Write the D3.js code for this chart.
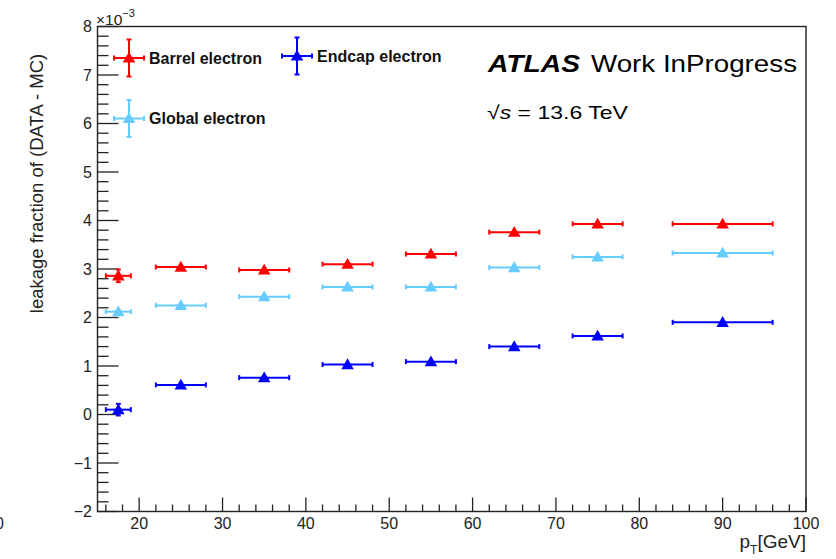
<!DOCTYPE html>
<html lang="en">
<head>
  <meta charset="utf-8">
  <title>Leakage fraction vs pT</title>
  <style type="text/css">
    body { margin: 0; background: #fff; }
    svg { display: block; font-family: "Liberation Sans", Arial, Helvetica, sans-serif; }
  </style>
  <script src="https://cdnjs.cloudflare.com/ajax/libs/d3/7.8.5/d3.min.js"></script>
</head>
<body>
  <div id="chart"></div>
  <script>

  // pT bins (GeV): centre and half width
  var ptCenter = [17.5, 25, 35, 45, 55, 65, 75, 90];
  var ptHalf = [1.5, 3, 3, 3, 3, 3, 3, 6];

  // leakage fraction (DATA - MC), in units of 1e-3
  var barrel = [2.86, 3.04, 2.98, 3.10, 3.31, 3.76, 3.93, 3.93];
  var barrelErr = [0.13, 0.04, 0.04, 0.04, 0.04, 0.04, 0.04, 0.04];
  var endcap = [0.10, 0.61, 0.76, 1.03, 1.09, 1.40, 1.62, 1.90];
  var endcapErr = [0.12, 0.05, 0.05, 0.05, 0.05, 0.05, 0.05, 0.05];
  var globalEl = [2.12, 2.25, 2.43, 2.63, 2.63, 3.03, 3.25, 3.33];
  var globalErr = [0.05, 0.03, 0.03, 0.03, 0.03, 0.03, 0.03, 0.03];

  var seriesNames = ["Barrel electron", "Endcap electron", "Global electron"];
  var seriesColors = ["#ff0000", "#0000ff", "#66ccff"];

  var xTicks = [20, 30, 40, 50, 60, 70, 80, 90, 100];
  var yTicks = [-2, -1, 0, 1, 2, 3, 4, 5, 6, 7, 8];

  function drawChart() {
    var w = 836, h = 559;
    var pLeft = 97.5, pRight = 806, pTop = 26.5, pBottom = 511.5;

    var svg = d3.select("#chart").append("svg")
      .attr("width", w)
      .attr("height", h);

    var x = d3.scaleLinear().domain([15, 100]).range([pLeft, pRight]);
    var y = d3.scaleLinear().domain([-2, 8]).range([pBottom, pTop]);

    // minor ticks
    var xMinor = d3.range(16, 100, 2).filter(function(v) { return v % 10 != 0; });
    var yMinor = d3.range(-18, 80, 2).map(function(v) { return v / 10; })
      .filter(function(v) { return Math.abs(v - Math.round(v)) > 0.01; });

    var tickColor = "#222";

    // x axis ticks
    svg.append("g").selectAll("line")
      .data(xTicks).enter().append("line")
      .attr("x1", function(d) { return x(d); })
      .attr("x2", function(d) { return x(d); })
      .attr("y1", pBottom).attr("y2", pBottom - 14)
      .attr("stroke", tickColor).attr("stroke-width", 1.3);
    svg.append("g").selectAll("line")
      .data(xMinor).enter().append("line")
      .attr("x1", function(d) { return x(d); })
      .attr("x2", function(d) { return x(d); })
      .attr("y1", pBottom).attr("y2", pBottom - 7)
      .attr("stroke", tickColor).attr("stroke-width", 1.3);

    // y axis ticks
    svg.append("g").selectAll("line")
      .data(yTicks).enter().append("line")
      .attr("y1", function(d) { return y(d); })
      .attr("y2", function(d) { return y(d); })
      .attr("x1", pLeft).attr("x2", pLeft + 21)
      .attr("stroke", tickColor).attr("stroke-width", 1.3);
    svg.append("g").selectAll("line")
      .data(yMinor).enter().append("line")
      .attr("y1", function(d) { return y(d); })
      .attr("y2", function(d) { return y(d); })
      .attr("x1", pLeft).attr("x2", pLeft + 11)
      .attr("stroke", tickColor).attr("stroke-width", 1.3);

    // frame
    svg.append("rect")
      .attr("x", pLeft).attr("y", pTop)
      .attr("width", pRight - pLeft).attr("height", pBottom - pTop)
      .attr("fill", "none")
      .attr("stroke", "#222")
      .attr("stroke-width", 1.4);

    // tick labels
    svg.append("g").selectAll("text")
      .data(xTicks).enter().append("text")
      .attr("x", function(d) { return x(d); })
      .attr("y", 529)
      .attr("text-anchor", "middle")
      .attr("font-size", 16)
      .attr("fill", "#222")
      .text(function(d) { return d; });

    var fmt = d3.format("d");
    svg.append("g").selectAll("text")
      .data(yTicks).enter().append("text")
      .attr("x", 92)
      .attr("y", function(d) { return y(d); })
      .attr("dy", "0.36em")
      .attr("text-anchor", "end")
      .attr("font-size", 16)
      .attr("fill", "#222")
      .text(function(d) { return fmt(d); });

    // stray label cut at the left border
    svg.append("text")
      .attr("x", -5).attr("y", 529)
      .attr("font-size", 16).attr("fill", "#222")
      .text("0");

    // exponent label
    var expo = svg.append("text")
      .attr("x", 96).attr("y", 25)
      .attr("font-size", 15.5).attr("fill", "#222");
    expo.append("tspan").text("\u00d710");
    expo.append("tspan").attr("dy", -8).attr("font-size", 11).text("\u22123");

    // axis titles
    svg.append("text")
      .attr("transform", "translate(43,183.5) rotate(-90)")
      .attr("text-anchor", "middle")
      .attr("font-size", 18.5)
      .attr("fill", "#222")
      .text("leakage fraction of (DATA - MC)");

    var xt = svg.append("text")
      .attr("x", pRight).attr("y", 548)
      .attr("text-anchor", "end")
      .attr("font-size", 19)
      .attr("fill", "#222");
    xt.append("tspan").text("p");
    xt.append("tspan").attr("dy", 6).attr("font-size", 12).text("T");
    xt.append("tspan").attr("dy", -6).text("[GeV]");

    // ATLAS label
    svg.append("text")
      .attr("x", 488).attr("y", 72)
      .attr("font-size", 24).attr("font-weight", "bold").attr("font-style", "italic")
      .attr("textLength", 92).attr("lengthAdjust", "spacingAndGlyphs")
      .text("ATLAS");
    svg.append("text")
      .attr("x", 591).attr("y", 72)
      .attr("font-size", 24)
      .attr("textLength", 206).attr("lengthAdjust", "spacingAndGlyphs")
      .text("Work InProgress");
    var ecm = svg.append("text")
      .attr("x", 487).attr("y", 118.5)
      .attr("font-size", 18.5)
      .attr("textLength", 141).attr("lengthAdjust", "spacingAndGlyphs");
    ecm.append("tspan").text("\u221a");
    ecm.append("tspan").attr("font-style", "italic").text("s");
    ecm.append("tspan").text(" = 13.6 TeV");

    // triangle marker
    var tri = d3.symbol().type(d3.symbolTriangle).size(68);
    var cap = 2.5;

    function drawPoint(g, cx, cy, x0, x1, y0, y1, color) {
      g.append("line").attr("x1", x0).attr("x2", x1).attr("y1", cy).attr("y2", cy);
      g.append("line").attr("x1", x0).attr("x2", x0).attr("y1", cy - cap).attr("y2", cy + cap);
      g.append("line").attr("x1", x1).attr("x2", x1).attr("y1", cy - cap).attr("y2", cy + cap);
      if (Math.abs(y1 - y0) > 10) {
        g.append("line").attr("x1", cx).attr("x2", cx).attr("y1", y0).attr("y2", y1);
        g.append("line").attr("x1", cx - cap).attr("x2", cx + cap).attr("y1", y0).attr("y2", y0);
        g.append("line").attr("x1", cx - cap).attr("x2", cx + cap).attr("y1", y1).attr("y2", y1);
      }
      g.selectAll("line").attr("stroke", color).attr("stroke-width", 2);
      g.append("path")
        .attr("d", tri)
        .attr("transform", "translate(" + cx + "," + (cy + 1) + ")")
        .attr("fill", color);
    }

    var allSeries = [
      { vals: barrel, errs: barrelErr, color: seriesColors[0] },
      { vals: globalEl, errs: globalErr, color: seriesColors[2] },
      { vals: endcap, errs: endcapErr, color: seriesColors[1] }
    ];

    allSeries.forEach(function(s) {
      var sg = svg.append("g");
      for (var i = 0; i < ptCenter.length; i++) {
        var g = sg.append("g");
        drawPoint(g,
          x(ptCenter[i]), y(s.vals[i]),
          x(ptCenter[i] - ptHalf[i]), x(ptCenter[i] + ptHalf[i]),
          y(s.vals[i] + s.errs[i]), y(s.vals[i] - s.errs[i]),
          s.color);
      }
    });

    // legend
    var legendPos = [[129, 58], [297, 56], [129, 118.5]];
    seriesNames.forEach(function(name, i) {
      var p = legendPos[i];
      var g = svg.append("g");
      drawPoint(g, p[0], p[1], p[0] - 15, p[0] + 15, p[1] - 18.5, p[1] + 18.5, seriesColors[i]);
      svg.append("text")
        .attr("x", p[0] + 20).attr("y", p[1])
        .attr("dy", "0.36em")
        .attr("font-size", 16).attr("font-weight", "bold")
        .attr("fill", "#111")
        .text(name);
    });
  }

  drawChart();
  </script>
</body>
</html>
